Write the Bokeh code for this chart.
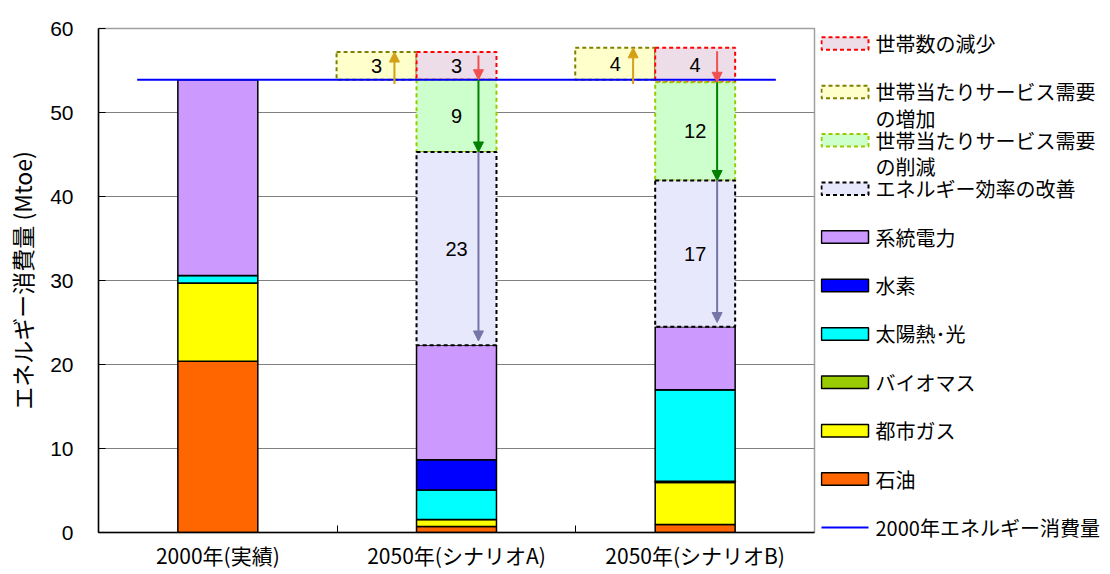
from bokeh.plotting import figure
from bokeh.layouts import row
from bokeh.models import ColumnDataSource, Range1d, FixedTicker, Arrow, NormalHead
from bokeh.core.properties import value
from bokeh.embed import file_html
from bokeh.resources import INLINE

# ---------------- data ----------------
categories = ["2000年(実績)", "2050年(シナリオA)", "2050年(シナリオB)"]
oil = [20.4, 0.7, 0.95]
city_gas = [9.3, 0.85, 5.0]
biomass = [0.0, 0.0, 0.15]
solar = [0.9, 3.5, 10.9]
hydrogen = [0.0, 3.6, 0.0]
grid_power = [23.3, 13.65, 7.5]

scenario_index = [1, 2]
demand_increase = [3.3, 3.8]
household_decrease = [3.3, 4.1]
demand_reduction = [8.6, 11.7]
efficiency_gain = [23.0, 17.4]

y_ticks = [0, 10, 20, 30, 40, 50, 60]

# ---------------- styling ----------------
JP = value("Noto Sans CJK JP")
LAT = value("Liberation Sans")
BW = 0.335
H = 572
FT, FB = 28, 532  # frame top / bottom in page pixels
stack_keys = ["oil", "city_gas", "biomass", "solar", "hydrogen", "grid_power"]
stack_colors = ["#FF6600", "#FFFF00", "#99CC00", "#00FFFF", "#0000FF", "#CC99FF"]

xs = [i + 0.5 for i in range(len(categories))]
src = ColumnDataSource(dict(x=xs, oil=oil, city_gas=city_gas, biomass=biomass,
                            solar=solar, hydrogen=hydrogen, grid_power=grid_power))

p = figure(width=820, height=H, x_range=Range1d(0, 3), y_range=Range1d(0, 60),
           output_backend="svg", toolbar_location=None,
           min_border_left=98, min_border_right=6, min_border_top=FT, min_border_bottom=H - FB)
p.background_fill_color = "white"
p.frame_align = False

p.vbar_stack(stack_keys, x="x", width=BW, color=stack_colors, line_color="black",
             line_width=1.5, source=src)

base = oil[0] + city_gas[0] + biomass[0] + solar[0] + hydrogen[0] + grid_power[0]

box_styles = {
    "inc": dict(fill_color="#FFFFCC", line_color="#808000"),
    "dec": dict(fill_color="#ECDDE8", line_color="#FF0000"),
    "red": dict(fill_color="#CCFFCC", line_color="#99CC00"),
    "eff": dict(fill_color="#E8E8FC", line_color="#000000"),
}
arrow_colors = {"inc": "#D4A017", "dec": "#F05050", "red": "#008000", "eff": "#7575A8"}

boxes = {k: dict(left=[], right=[], bottom=[], top=[]) for k in box_styles}
labels = dict(x=[], y=[], text=[])
arrows = []
for j, idx in enumerate(scenario_index):
    xc = xs[idx]
    t_inc = base + demand_increase[j]
    t_dec = t_inc - household_decrease[j]
    t_red = t_dec - demand_reduction[j]
    t_eff = t_red - efficiency_gain[j]
    spec = [
        ("inc", xc - BW, base, t_inc, demand_increase[j]),
        ("dec", xc, t_dec, t_inc, household_decrease[j]),
        ("red", xc, t_red, t_dec, demand_reduction[j]),
        ("eff", xc, t_eff, t_red, efficiency_gain[j]),
    ]
    for key, cx, b, t, v in spec:
        boxes[key]["left"].append(cx - BW / 2)
        boxes[key]["right"].append(cx + BW / 2)
        boxes[key]["bottom"].append(b)
        boxes[key]["top"].append(t)
        labels["x"].append(cx)
        labels["y"].append((b + t) / 2)
        labels["text"].append(str(int(round(v))))
    arrows.append(("inc", xc - BW + 0.075, base - 0.5, t_inc))
    arrows.append(("dec", xc + 0.092, t_inc - 0.4, t_dec))
    arrows.append(("red", xc + 0.092, t_dec, t_red))
    arrows.append(("eff", xc + 0.092, t_red, t_eff + 0.5))

for key, st in box_styles.items():
    p.quad(source=ColumnDataSource(boxes[key]), left="left", right="right",
           bottom="bottom", top="top", fill_color=st["fill_color"],
           line_color=st["line_color"], line_width=2, line_dash="4 3")

# 2000 reference line
p.line(x=[0.162, 2.838], y=[base, base], line_color="#0000FF", line_width=2)

for key, x, y0, y1 in arrows:
    c = arrow_colors[key]
    p.add_layout(Arrow(end=NormalHead(size=10, fill_color=c, line_color=c),
                       x_start=x, y_start=y0, x_end=x, y_end=y1,
                       line_color=c, line_width=2))

p.text(x="x", y="y", text="text", source=ColumnDataSource(labels),
       text_align="center", text_baseline="middle", text_font=LAT,
       text_font_size="20px", text_color="black")

# axes
p.xaxis.ticker = FixedTicker(ticks=xs, minor_ticks=[1, 2])
p.xaxis.major_label_overrides = {x: c for x, c in zip(xs, categories)}
p.xaxis.major_tick_in = 0
p.xaxis.major_tick_out = 0
p.xaxis.minor_tick_in = 7
p.xaxis.minor_tick_out = 0
p.xaxis.minor_tick_line_color = "black"
p.xaxis.major_label_text_font = "Noto Sans CJK JP"
p.xaxis.major_label_text_font_size = "21px"
p.xaxis.major_label_text_color = "black"
p.xaxis.major_label_standoff = 7
p.xaxis.axis_line_color = "black"
p.xaxis.axis_line_width = 1.5
p.xgrid.visible = False

p.yaxis.ticker = FixedTicker(ticks=y_ticks)
p.yaxis.major_tick_in = 7
p.yaxis.major_tick_out = 0
p.yaxis.major_tick_line_color = "black"
p.yaxis.major_label_text_font = "Liberation Sans"
p.yaxis.major_label_text_font_size = "21px"
p.yaxis.major_label_text_color = "black"
p.yaxis.major_label_standoff = 25
p.yaxis.axis_line_color = "black"
p.yaxis.axis_line_width = 1.5
p.yaxis.axis_label = "エネルギー消費量 (Mtoe)"
p.yaxis.axis_label_text_font = "Noto Sans CJK JP"
p.yaxis.axis_label_text_font_size = "23px"
p.yaxis.axis_label_text_font_style = "normal"
p.yaxis.axis_label_text_color = "black"
p.yaxis.axis_label_standoff = 8
p.ygrid.grid_line_color = "#808080"
p.ygrid.grid_line_width = 1
p.outline_line_color = "#A0A0A0"
p.outline_line_width = 1.5

# ---------------- legend (separate panel, pixel coordinates) ----------------
LW = 288
leg = figure(width=LW, height=H, x_range=Range1d(0, LW), y_range=Range1d(H, 0),
             output_backend="svg", toolbar_location=None, min_border=0,
             x_axis_type=None, y_axis_type=None, outline_line_color=None)
leg.grid.visible = False
leg.frame_align = False

legend_labels = ["世帯数の減少", "世帯当たりサービス需要\nの増加", "世帯当たりサービス需要\nの削減",
                 "エネルギー効率の改善", "系統電力", "水素", "太陽熱･光", "バイオマス",
                 "都市ガス", "石油", "2000年エネルギー消費量"]
legend_kinds = ["dec", "inc", "red", "eff"] + ["solid"] * 6 + ["line"]
solid_colors = list(reversed(stack_colors))

y0, step = 43, 48.4
sx, sw, sh, tx = 24.5, 47, 12.5, 55
solid_i = 0
tx_list, ty_list, tt_list = [], [], []
for i, (lab, kind) in enumerate(zip(legend_labels, legend_kinds)):
    yc = y0 + step * i
    if kind in box_styles:
        st = box_styles[kind]
        leg.rect(x=[sx], y=[yc], width=sw, height=sh, fill_color=st["fill_color"],
                 line_color=st["line_color"], line_width=2, line_dash="4 3")
    elif kind == "solid":
        leg.rect(x=[sx], y=[yc], width=sw, height=sh, fill_color=solid_colors[solid_i],
                 line_color="black", line_width=1.5)
        solid_i += 1
    else:
        leg.line(x=[sx - sw / 2, sx + sw / 2], y=[yc, yc], line_color="#0000FF", line_width=2)
    for k, part in enumerate(lab.split("\n")):
        tx_list.append(tx)
        ty_list.append(yc + 26.5 * k)
        tt_list.append(part)

leg.text(x=tx_list, y=ty_list, text=tt_list, text_align="left", text_baseline="middle",
         text_font=JP, text_font_size="20px", text_color="black")

layout = row(p, leg)
open("out.html", "w").write(file_html(layout, INLINE))
